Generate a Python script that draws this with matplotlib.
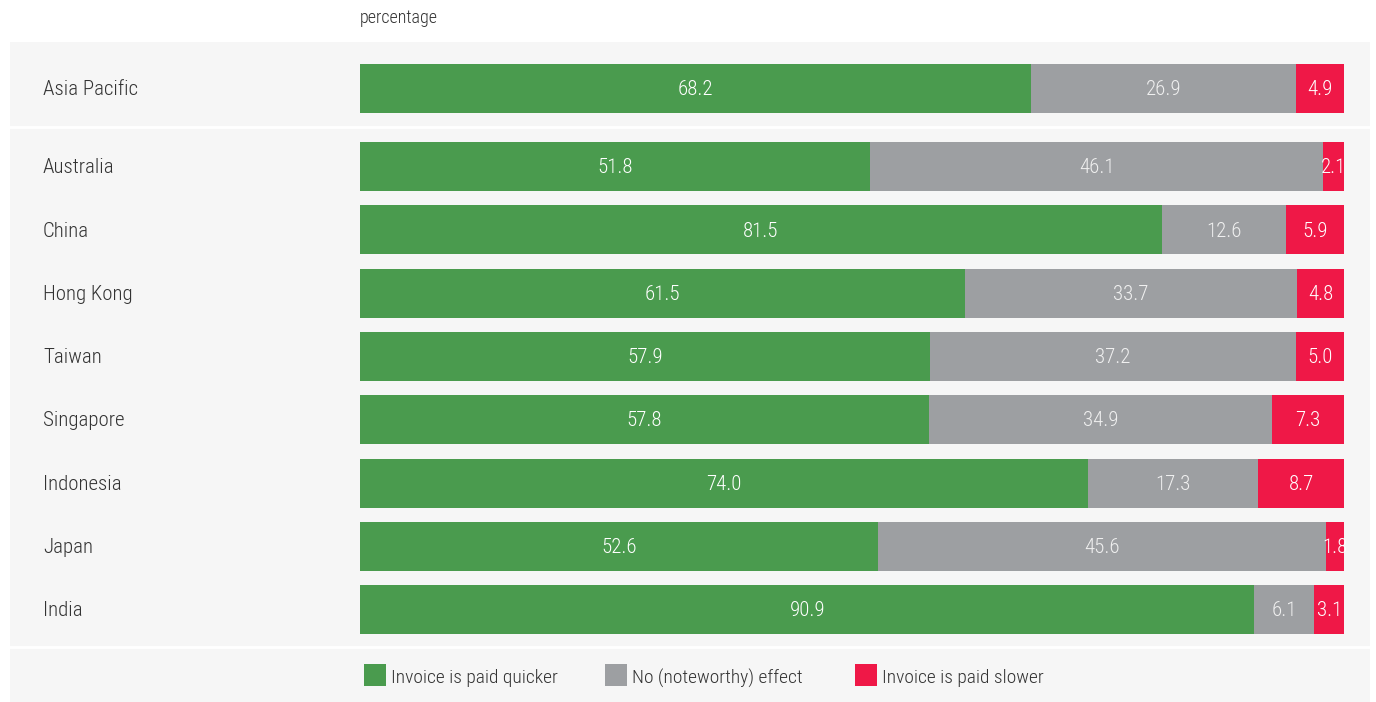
import numpy as np
import matplotlib.pyplot as plt
from matplotlib.patches import Rectangle
from matplotlib.transforms import blended_transform_factory

# share of respondents per effect, percentage
regions = ['Asia Pacific', 'Australia', 'China', 'Hong Kong', 'Taiwan',
           'Singapore', 'Indonesia', 'Japan', 'India']
quicker = [68.2, 51.8, 81.5, 61.5, 57.9, 57.8, 74.0, 52.6, 90.9]
no_effect = [26.9, 46.1, 12.6, 33.7, 37.2, 34.9, 17.3, 45.6, 6.1]
slower = [4.9, 2.1, 5.9, 4.8, 5.0, 7.3, 8.7, 1.8, 3.1]
series_names = ['Invoice is paid quicker', 'No (noteworthy) effect', 'Invoice is paid slower']

colors = ['#4a9b4e', '#9d9fa2', '#ef1847']
txt_colors = ['#ffffff', '#f0f0f0', '#ffffff']
panel = '#f6f6f6'
family = ['Roboto Condensed', 'Liberation Sans Narrow', 'DejaVu Sans']
plt.rcParams['font.family'] = family
plt.rcParams['font.weight'] = 'light'

W, H = 1376, 702
fig = plt.figure(figsize=(W / 100, H / 100), dpi=100)
fig.patch.set_facecolor('white')

# grey panel behind the chart
fig.patches.append(Rectangle((10 / W, 0), 1360 / W, (H - 42) / H,
                             transform=fig.transFigure, facecolor=panel,
                             edgecolor='none', zorder=-5))

# axes: 0..100 spans the bar area, rows measured in row pitch
row = 63.3
ax = fig.add_axes([360 / W, 0, 984 / W, (H - 42) / H])
ax.set_xlim(0, 100)
y_top = (42 - 166.5) / row
y_bot = (H - 166.5) / row
ax.set_ylim(y_bot, y_top)
ax.axis('off')

ypos = np.arange(len(regions) - 1, dtype=float)
ypos = np.concatenate([[-78 / row], ypos])
bar_h = 49 / row

left = np.zeros(len(regions))
for vals, c, tc in zip([quicker, no_effect, slower], colors, txt_colors):
    vals = np.array(vals)
    ax.barh(ypos, vals, left=left, height=bar_h, color=c, linewidth=0)
    for y, l, v in zip(ypos, left, vals):
        ax.text(l + v / 2, y + 0.02, f'{v:.1f}', ha='center', va='center',
                color=tc, fontsize=15)
    left += vals

# region labels and separators across the panel
tr = blended_transform_factory(fig.transFigure, ax.transData)
for y, name in zip(ypos, regions):
    ax.text(43 / W, y + 0.02, name, transform=tr, ha='left', va='center',
            color='#333333', fontsize=15)
for ysep in [(127 - 166.5) / row, (647 - 166.5) / row]:
    ax.plot([10 / W, 1370 / W], [ysep, ysep], transform=tr, color='white',
            linewidth=2, clip_on=False)

fig.text(360 / W, 1 - 18 / H, 'percentage', ha='left', va='center',
         color='#333333', fontsize=13)

# legend
leg_x = [364, 605, 855]
for x, c, name in zip(leg_x, colors, series_names):
    fig.patches.append(Rectangle((x / W, 1 - 686 / H), 22 / W, 22 / H,
                                 transform=fig.transFigure, facecolor=c,
                                 edgecolor='none'))
    fig.text((x + 27) / W, 1 - 678 / H, name, ha='left', va='center',
             color='#333333', fontsize=14)

fig.savefig('out.png', dpi=100, facecolor='white')
